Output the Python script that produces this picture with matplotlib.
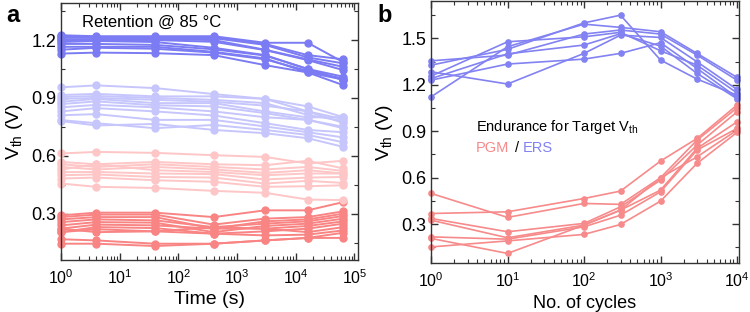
import numpy as np
import matplotlib
matplotlib.use('Agg')
import matplotlib.pyplot as plt
from matplotlib.ticker import MultipleLocator, LogLocator, NullFormatter

plt.rcParams['font.family'] = ['Liberation Sans', 'DejaVu Sans']
plt.rcParams['mathtext.fontset'] = 'custom'
plt.rcParams['mathtext.rm'] = 'Liberation Sans'
plt.rcParams['mathtext.it'] = 'Liberation Sans:italic'
plt.rcParams['mathtext.bf'] = 'Liberation Sans:bold'

# ---- panel a: retention @ 85 C ----
ret_time = [1, 4, 40, 400, 3000, 16000, 65000]
ret_high = [
    [1.225, 1.220, 1.220, 1.220, 1.186, 1.186, 1.085],
    [1.220, 1.215, 1.215, 1.215, 1.180, 1.122, 1.100],
    [1.215, 1.212, 1.210, 1.210, 1.175, 1.110, 1.079],
    [1.205, 1.205, 1.205, 1.200, 1.150, 1.100, 1.061],
    [1.200, 1.200, 1.200, 1.191, 1.148, 1.096, 1.044],
    [1.190, 1.195, 1.190, 1.160, 1.122, 1.050, 1.010],
    [1.180, 1.180, 1.175, 1.152, 1.120, 1.050, 0.992],
    [1.165, 1.165, 1.165, 1.139, 1.105, 1.032, 0.995],
    [1.150, 1.160, 1.155, 1.135, 1.100, 1.040, 1.000],
    [1.130, 1.135, 1.132, 1.122, 1.070, 1.032, 0.966],
]
ret_midhigh = [
    [0.955, 0.965, 0.951, 0.920, 0.895, 0.856, 0.800],
    [0.915, 0.921, 0.908, 0.908, 0.895, 0.830, 0.790],
    [0.905, 0.910, 0.900, 0.890, 0.873, 0.812, 0.780],
    [0.895, 0.900, 0.890, 0.880, 0.860, 0.830, 0.770],
    [0.880, 0.895, 0.873, 0.873, 0.830, 0.799, 0.800],
    [0.868, 0.882, 0.862, 0.856, 0.821, 0.786, 0.750],
    [0.851, 0.864, 0.851, 0.830, 0.800, 0.786, 0.743],
    [0.830, 0.847, 0.830, 0.809, 0.769, 0.734, 0.722],
    [0.810, 0.816, 0.786, 0.786, 0.752, 0.722, 0.695],
    [0.785, 0.769, 0.743, 0.760, 0.734, 0.708, 0.670],
    [0.780, 0.757, 0.765, 0.734, 0.717, 0.691, 0.646],
]
ret_midlow = [
    [0.612, 0.620, 0.615, 0.603, 0.594, 0.560, 0.574],
    [0.568, 0.556, 0.568, 0.556, 0.551, 0.574, 0.534],
    [0.556, 0.542, 0.556, 0.542, 0.529, 0.542, 0.521],
    [0.542, 0.529, 0.542, 0.529, 0.511, 0.525, 0.508],
    [0.529, 0.556, 0.525, 0.516, 0.499, 0.508, 0.508],
    [0.515, 0.516, 0.508, 0.505, 0.477, 0.487, 0.490],
    [0.499, 0.503, 0.490, 0.487, 0.456, 0.470, 0.459],
    [0.482, 0.487, 0.473, 0.465, 0.439, 0.442, 0.447],
    [0.456, 0.439, 0.433, 0.418, 0.408, 0.373, 0.370],
]
ret_low = [
    [0.291, 0.305, 0.305, 0.282, 0.317, 0.317, 0.360],
    [0.282, 0.295, 0.295, 0.243, 0.274, 0.282, 0.312],
    [0.270, 0.282, 0.282, 0.222, 0.260, 0.270, 0.300],
    [0.256, 0.270, 0.265, 0.230, 0.248, 0.260, 0.288],
    [0.239, 0.256, 0.253, 0.204, 0.236, 0.248, 0.274],
    [0.222, 0.243, 0.239, 0.222, 0.222, 0.236, 0.260],
    [0.204, 0.230, 0.225, 0.196, 0.208, 0.222, 0.248],
    [0.204, 0.219, 0.208, 0.230, 0.222, 0.204, 0.230],
    [0.222, 0.204, 0.208, 0.196, 0.187, 0.191, 0.213],
    [0.167, 0.161, 0.144, 0.144, 0.161, 0.174, 0.201],
    [0.144, 0.144, 0.132, 0.144, 0.161, 0.174, 0.174],
]

# ---- panel b: endurance ----
cycles = [1, 10, 100, 300, 1000, 3000, 10000]
ers = [
    [1.327, 1.429, 1.600, 1.650, 1.360, 1.237, 1.133],
    [1.122, 1.446, 1.592, 1.571, 1.543, 1.403, 1.248],
    [1.355, 1.392, 1.528, 1.554, 1.528, 1.392, 1.230],
    [1.284, 1.205, 1.403, 1.521, 1.506, 1.349, 1.170],
    [1.256, 1.478, 1.510, 1.539, 1.420, 1.327, 1.148],
    [1.230, 1.334, 1.366, 1.403, 1.472, 1.306, 1.118],
    [1.240, 1.400, 1.457, 1.530, 1.450, 1.274, 1.110],
]
pgm = [
    [0.498, 0.343, 0.433, 0.427, 0.599, 0.842, 1.051],
    [0.368, 0.379, 0.465, 0.513, 0.707, 0.853, 1.069],
    [0.336, 0.250, 0.304, 0.411, 0.584, 0.810, 1.025],
    [0.325, 0.211, 0.293, 0.390, 0.519, 0.789, 0.960],
    [0.217, 0.202, 0.282, 0.357, 0.508, 0.778, 0.918],
    [0.207, 0.110, 0.293, 0.390, 0.599, 0.734, 0.907],
    [0.152, 0.191, 0.233, 0.297, 0.448, 0.692, 0.892],
]

c_high = '#7b7bf4'
c_midhigh = '#c6c6fd'
c_midlow = '#fec6c6'
c_low = '#f98484'
c_ers = '#8282f2'
c_pgm = '#f78a8a'

fig = plt.figure(figsize=(7.5, 3.12), dpi=100)
axa = fig.add_axes([0.0813, 0.167, 0.396, 0.822])
axb = fig.add_axes([0.5747, 0.158, 0.41, 0.838])


def style(ax):
    ax.set_xscale('log')
    ax.tick_params(which='both', direction='in', top=True, right=True,
                   color='#333333')
    ax.tick_params(axis='y', labelsize=13)
    ax.tick_params(axis='x', labelsize=11.5, pad=6)
    ax.tick_params(which='major', length=5, width=1)
    ax.tick_params(which='minor', length=3, width=0.8)
    ax.xaxis.set_major_locator(LogLocator(base=10, numticks=12))
    ax.xaxis.set_minor_locator(LogLocator(base=10, subs=np.arange(2, 10), numticks=20))
    ax.xaxis.set_minor_formatter(NullFormatter())
    ax.yaxis.set_major_locator(MultipleLocator(0.3))
    ax.yaxis.set_minor_locator(MultipleLocator(0.15))
    for s in ax.spines.values():
        s.set_color('#333333')
        s.set_linewidth(1)


for group, col in [(ret_low, c_low), (ret_midlow, c_midlow),
                   (ret_midhigh, c_midhigh), (ret_high, c_high)]:
    for v in group:
        axa.plot(ret_time, v, '-o', color=col, lw=1.4, ms=5, clip_on=False)
style(axa)
axa.set_xlim(1, 1.15e5)
axa.set_ylim(0.06, 1.39)
axa.set_xlabel('Time (s)', fontsize=14, labelpad=3)
axa.set_ylabel('V$_{\\mathrm{th}}$ (V)', fontsize=14, labelpad=4)
axa.text(0.07, 0.955, 'Retention @ 85 \u00b0C', transform=axa.transAxes,
         fontsize=12, va='top')

for v in ers:
    axb.plot(cycles, v, '-o', color=c_ers, lw=1.2, ms=3.8, clip_on=False)
for v in pgm:
    axb.plot(cycles, v, '-o', color=c_pgm, lw=1.2, ms=3.8, clip_on=False)
style(axb)
axb.set_xlim(1, 10 ** 4.02)
axb.set_ylim(0.05, 1.74)
axb.set_xlabel('No. of cycles', fontsize=13, labelpad=4)
axb.set_ylabel('V$_{\\mathrm{th}}$ (V)', fontsize=14, labelpad=4)
axb.text(0.147, 0.519, 'Endurance for Target V$_{\\mathrm{th}}$',
         transform=axb.transAxes, fontsize=10.5, va='center')
axb.text(0.147, 0.439, 'PGM', color=c_pgm, transform=axb.transAxes,
         fontsize=10.5, va='center')
axb.text(0.273, 0.439, '/', color='black', transform=axb.transAxes,
         fontsize=10.5, va='center')
axb.text(0.297, 0.439, 'ERS', color=c_ers, transform=axb.transAxes,
         fontsize=10.5, va='center')

fig.text(0.008, 0.93, 'a', fontsize=17, fontweight='bold')
fig.text(0.503, 0.93, 'b', fontsize=17, fontweight='bold')

fig.savefig('out.png', dpi=100)
